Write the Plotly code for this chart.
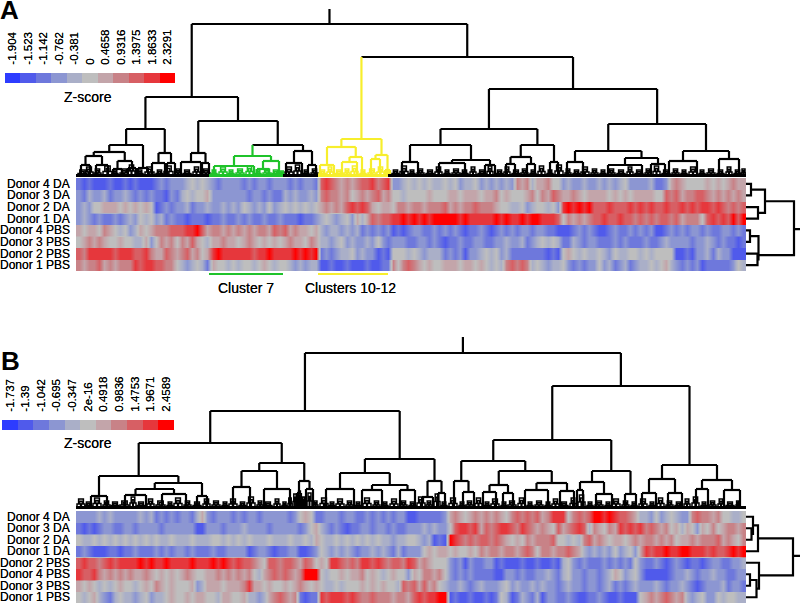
import plotly.graph_objects as go

W, H = 800, 603
COLORS = ["#2d3cff","#505aeb","#6e78dc","#8c96d2","#aaafc8","#bebebe","#c3a5aa","#c88287","#d75f64","#e6373c","#ff0000"]

ROWS_A = ["Donor 4 DA","Donor 3 DA","Donor 2 DA","Donor 1 DA","Donor 4 PBS","Donor 3 PBS","Donor 2 PBS","Donor 1 PBS"]
ROWS_B = ["Donor 4 DA","Donor 3 DA","Donor 2 DA","Donor 1 DA","Donor 2 PBS","Donor 4 PBS","Donor 3 PBS","Donor 1 PBS"]
TICKS_A = ["-1.904","-1.523","-1.142","-0.762","-0.381","0","0.4658","0.9316","1.3975","1.8633","2.3291"]
TICKS_B = ["-1.737","-1.39","-1.042","-0.695","-0.347","2e-16","0.4918","0.9836","1.4753","1.9671","2.4589"]

# colour level of each gene block, 0 (blue) .. a (red)
HEAT_A = [
"2121112112 1211123233 3454543233 3323233233 3232332898 7676788978 9334545454 4545344534 3434376746 6755343343 3434345333 3422367655 5565656766",
"3243342334 3232322132 4545563333 3332332322 4343343787 7675676786 7554555565 5566566656 6756555675 7687667656 6665656566 6655878677 8876767676",
"3435566656 5656512323 3423343343 4354343534 5454545676 7689898656 6577677677 7867677877 7655445345 54539a9a9a 8889888989 8988988989 8998987878",
"3432322323 4354534232 2122212232 2323223223 2221223454 3453646878 899a9a9a9a aaaa9a9999 9a9a99a9aa 9998576767 8898898878 7878878677 7589898a8a",
"6566576545 3465677788 899a867767 6767677687 8676656434 4343423232 3121233223 2323212232 1232323323 3221112323 2112322323 2311232323 3232233232",
"5676765565 5446357675 7686546676 6567656565 6766576443 4534334353 2333223323 2122322332 2334334234 5454224323 3222323222 3223433332 3343232212",
"8799999899 9889766876 7867569a99 9999899a99 99a9a9a232 3445343312 1555454344 4232313345 4534222222 2121565454 4543544554 5455551121 3342433111",
"7677867677 7989988775 4345426554 5455456545 5434344112 1121112112 2757876565 5666566565 4547878745 4344532323 3534234234 4545643232 3122222354",
]
HEAT_B = [
"3333434333 3343423232 3324632333 2323323333 3235652233 3233223232 3233112222 2367656767 6765787878 6799957878 aa9a988764 4353454337 8776755445",
"2121233223 3233332333 3331133323 3343333233 3332356432 3212233233 2322333434 3358998968 7899879876 7658678984 7657698989 7876756465 3657567767",
"5445454545 4545454454 4454445545 4545444544 4544546544 5454545454 4344554341 21a9878788 7876565767 7785545478 6765665676 7767675667 6777867657",
"2321112212 2322232323 3232223223 3331233212 2331123543 4343233434 3242333565 6656556576 7767767875 7767787643 4343534536 9899a99aa9 9989889a9a",
"8988789899 99a9a99a99 99a999a9a9 8988765887 8876875659 9878799898 7887986765 5532313223 3121112112 1121453232 2232323253 2232123212 2123322334",
"9889767676 7667656565 6765566767 6767546787 8767aaa545 5656675654 5655365776 7532323222 2113323223 3432453323 3234653453 1111123343 2334332233",
"6565454565 5456576565 5563466656 6679665655 6567656544 5455565656 5548786867 5433432343 3345343343 4332343323 3234232343 3343233432 1233342332",
"5456432454 4345344565 5656655466 5564434678 7672122989 9989877877 7677689899 aa12112112 1254124324 1332232112 2321121115 6767876743 4533545544",
]

# column dendrograms: (height, left, right[, colour]); a bare number is a leaf at that gene rank
TREE_A = (153,
  (80,
    (48,
      (32, (25, (21, (12,5,14), (12,20,32)), (16, (8,37,46), (9,52,60))), (9,62,72)),
      (24, (14,76,89), (14,91,99))),
    (56,
      (24, (15,105,125), (14,126,133)),
      (32,
        (21, (11,138,178), (16, (8,181,193), 203), "g"),
        (26, (14,210,226), (12,232,240))))),
  (120,
    (38,
      (30, (12,244,258), (20, (15,266,281), 286)),
      (22, (18,295,304), (7,309,314)), "y"),
    (88,
      (48,
        (32, (15,326,342), (17, (14,363,389), (12,409,419))),
        (32, (20, (13,430,439), (13,451,459)), (15,474,482))),
      (53,
        (26, (15,491,507), (19, (12,532,566), (13,575,589))),
        (26, (16,593,621), (18,643,663))))))
TREE_B = (156,
  (98,
    (66,
      (33, (13,15,31), (26, (20, (14,49,70), (15,86,110)), (13,121,131))),
      (46, (38, (22,157,174), (20,188,214)), (28, (16,221,225), (20,230,237)))),
    (50,
      (36, (20,250,278), (24, (19,286,306), (19,324,339))),
      (28, (12,346,357), (16,362,369)))),
  (123,
    (69,
      (48,
        (28, 378, (17,387,398)),
        (38, (24, (17,407,420), (16,427,437)), (26, (19,449,472), (18,484,498)))),
      (38, (27, (19,501,507), (15,520,536)), (15,549,560))),
    (44,
      (30, (16,566,580), (16,592,606)),
      (29, (20,620,632), (19,648,664)))))
ROOT_TOP_A, ROOT_TOP_B = 168, 172

# low tufts of the dendrograms: gene rank, width, height
TUFT_A = [(2,9,7),(9,8,10),(18,7,8),(27,9,11),(36,6,7),(44,8,8),(52,7,12),(61,6,7),(69,9,10),(80,7,7),(88,9,11),(99,6,8),(107,8,7),(117,7,10),(126,8,8),
(135,6,7),(143,8,10),(152,6,7),(160,8,8),(170,7,11),(179,6,7),(187,8,8),(196,7,7),(204,4,6),(209,8,10),(218,7,12),(227,6,7),(235,7,8),
(243,7,7),(251,6,10),(259,8,7),(268,6,8),(275,7,11),(284,6,7),(292,8,8),(301,7,10),(309,4,7),(316,7,7),(324,8,11),(333,6,7),(341,7,8),(350,8,7),
(359,7,10),(368,6,7),(376,8,8),(385,7,7),(394,6,10),(402,8,7),(411,6,11),(420,7,7),(428,6,10),(436,8,7),(445,7,8),(454,6,7),(462,7,11),(471,6,7),
(479,8,12),(489,6,8),(497,7,7),(505,8,10),(515,7,8),(524,6,7),(532,7,8),(541,8,7),(551,6,10),(559,8,7),(569,6,8),(577,7,11),(586,8,7),
(596,7,8),(605,6,7),(613,8,10),(623,6,7),(631,8,8),(641,7,7),(650,6,10),(658,7,7),(665,5,8)]
TUFT_B = [(1,8,10),(9,7,7),(17,8,11),(27,7,8),(35,8,7),(44,9,8),(54,6,12),(61,8,7),(71,7,10),(80,9,8),(91,6,7),(98,8,11),(108,7,8),(117,8,7),(127,7,10),
(136,8,8),(146,6,7),(153,8,10),(163,7,7),(171,8,12),(181,6,8),(188,8,7),(198,6,10),(206,5,7),(212,4,11),(217,4,15),(222,3,18),(226,3,12),(231,5,16),(237,5,8),
(244,8,11),(253,6,7),(260,8,10),(270,7,8),(279,6,7),(287,8,11),(297,7,8),(306,6,7),(314,8,10),(324,7,8),(333,7,7),(341,8,12),(350,6,8),(358,6,15),(365,6,7),
(373,8,11),(383,6,7),(390,7,8),(399,7,11),(408,6,7),(415,8,10),(425,6,7),(432,8,8),(442,7,11),(451,6,7),(459,8,8),(469,6,7),(476,7,10),(484,8,7),(494,6,11),
(502,7,14),(511,6,7),(519,8,8),(529,6,7),(536,8,10),(546,7,8),(555,6,7),(563,8,10),(573,6,7),(581,7,11),(590,7,8),(599,7,7),(608,6,10),(616,7,12),(625,6,7),
(633,7,8),(642,6,10),(650,8,7),(660,3,8)]
CLUSTER_SPANS_A = {"g": (133,207), "y": (242,312)}
CLUSTER_LABELS_A = [("Cluster 7", "g", 170), ("Clusters 10-12", "y", 274)]

# sample dendrograms: (height, row a, row b, height at a, height at b)
ROWTREE_A = [(5,.5,1.5,0,0),(12,2.5,3.5,0,0),(19,1,3,5,12),(4,4.5,5.5,0,0),(11.5,6.5,7.5,0,0),(12.5,5,7,4,11.5),(48,2,6.64,19,12.5),(54,4.4,4.4,48,48)]
ROWTREE_B = [(5.5,1.5,2.5,0,0),(7,.5,2,0,5.5),(12,1.25,3.5,7,0),(4,5.5,6.5,0,0),(10.5,6,7.5,4,0),(13,4.5,6.75,0,10.5),(47,2.375,5.6,12,13),(54,3.9,3.9,47,47)]

LINE = {"k": "#000000", "g": "#1fc32a", "y": "#f7ee2c"}
FONT = "Liberation Sans, Arial, sans-serif"
SHADOW = "0 0 0.6px rgba(0,0,0,0.9)"
GENES = 670.0


def dom(a, b, size):
    return [a / size, b / size]


def ydom(top, bottom):
    return [1 - bottom / H, 1 - top / H]


def walk(node, seg, col="k"):
    """returns (x, height, colour) of the node, adding its segments to seg"""
    if not isinstance(node, tuple):
        return node, 0, col
    h, l, r = node[:3]
    c = node[3] if len(node) > 3 else col
    lx, lh, lc = walk(l, seg, c)
    rx, rh, rc = walk(r, seg, c)
    seg[c][0] += [lx, rx, None]
    seg[c][1] += [h, h, None]
    seg[lc][0] += [lx, lx, None]
    seg[lc][1] += [lh, h, None]
    seg[rc][0] += [rx, rx, None]
    seg[rc][1] += [rh, h, None]
    return (lx + rx) / 2, h, c


def colour_at(x, spans):
    for k, (a, b) in spans.items():
        if a <= x + 1 and x + 1 <= b + 1:
            return k
    return "k"


fig = go.Figure()
layout = {}
annotations = []
shapes = []


def panel(idx, heat, rows, ticks, tree, root_top, tufts, spans, rowtree, tree_px, heat_px, bar_px, letter, zscore_y, letter_xy):
    ax = lambda k: idx + k
    xn = lambda k: f"x{ax(k)}"
    yn = lambda k: f"y{ax(k)}"
    lx = lambda k: f"xaxis{ax(k)}"
    ly = lambda k: f"yaxis{ax(k)}"
    off = dict(visible=False, fixedrange=True)

    # column dendrogram
    seg = {k: [[], []] for k in LINE}
    x, h, _ = walk(tree, seg)
    seg["k"][0] += [x, x, None]
    seg["k"][1] += [h, root_top, None]
    for k, (xs, ys) in seg.items():
        if xs:
            fig.add_trace(go.Scatter(x=xs, y=ys, mode="lines", xaxis=xn(0), yaxis=yn(0), hoverinfo="skip",
                                     line=dict(color=LINE[k], width=2.2)))
    low = {k: [[], []] for k in LINE}
    for (t, w, hh) in tufts:
        k = colour_at(t, spans)
        # a tuft narrows towards its top, as the nested merges do in the picture
        low[k][0] += [t + w * .2, t + w * .2, t + w * .8, t + w * .8, None,
                      t, t, t + w * .45, t + w * .45, None, t + w * .55, t + w * .55, t + w, t + w, None,
                      t + w * .35, t + w * .35, t + w * .65, t + w * .65, None]
        low[k][1] += [hh * .5, hh, hh, hh * .5, None,
                      0, hh * .5, hh * .5, 0, None, 0, hh * .5, hh * .5, 0, None,
                      hh * .5, hh * .78, hh * .78, hh * .5, None]
    for k, (xs, ys) in low.items():
        if xs:
            fig.add_trace(go.Scatter(x=xs, y=ys, mode="lines", xaxis=xn(0), yaxis=yn(0), hoverinfo="skip",
                                     line=dict(color=LINE[k], width=1.5)))
    # solid band along the foot of the tree
    edges = sorted([0, GENES] + [v for s in spans.values() for v in s])
    for a, b in zip(edges[:-1], edges[1:]):
        k = colour_at((a + b) / 2, spans)
        fig.add_trace(go.Scatter(x=[a, b], y=[1.5, 1.5], mode="lines", xaxis=xn(0), yaxis=yn(0), hoverinfo="skip",
                                 line=dict(color=LINE[k], width=3)))
    layout[lx(0)] = dict(domain=dom(76, 746, W), range=[0, GENES], anchor=yn(0), **off)
    layout[ly(0)] = dict(domain=ydom(*tree_px), range=[0, tree_px[1] - tree_px[0]], anchor=xn(0), **off)

    # heat map
    rep = 8
    parsed = [[int(c, 16) for c in r.replace(" ", "")] for r in heat]
    z, yy = [], []
    for i, r in enumerate(parsed):
        for j in range(rep):
            z.append(r)
            yy.append(i + (j + .5) / rep)
    n = len(parsed[0])
    dx = GENES / n
    scale = [[i / 10, c] for i, c in enumerate(COLORS)]
    fig.add_trace(go.Heatmap(z=z, x=[dx * (i + .5) for i in range(n)], y=yy, zmin=0, zmax=10, colorscale=scale,
                             showscale=False, zsmooth="best", xaxis=xn(1), yaxis=yn(1), hoverinfo="skip"))
    layout[lx(1)] = dict(domain=dom(76, 746, W), range=[0, GENES], anchor=yn(1), **off)
    layout[ly(1)] = dict(domain=ydom(*heat_px), range=[8, 0], anchor=xn(1), **off)
    for i, name in enumerate(rows):
        annotations.append(dict(text=name, xref="paper", yref=yn(1), x=71 / W, y=i + .5, showarrow=False,
                                xanchor="right", yanchor="middle", borderpad=0,
                                font=dict(family=FONT, size=12, color="#000000", shadow=SHADOW)))

    # sample dendrogram
    xs, ys = [], []
    for (hh, a, b, ha, hb) in rowtree:
        xs += [ha, hh, hh, hb, None]
        ys += [a, a, b, b, None]
    fig.add_trace(go.Scatter(x=xs, y=ys, mode="lines", xaxis=xn(2), yaxis=yn(2), hoverinfo="skip",
                             line=dict(color="#000000", width=2.2)))
    layout[lx(2)] = dict(domain=dom(746, 800, W), range=[0, 54], anchor=yn(2), **off)
    layout[ly(2)] = dict(domain=ydom(*heat_px), range=[8, 0], anchor=xn(2), **off)

    # colour key
    fig.add_trace(go.Heatmap(z=[list(range(11))], x=ticks, y=["Z-score"], zmin=0, zmax=10, colorscale=scale,
                             showscale=False, xaxis=xn(3), yaxis=yn(3), hoverinfo="skip"))
    layout[lx(3)] = dict(domain=dom(bar_px[0], bar_px[1], W), type="category", side="top", anchor=yn(3), fixedrange=True,
                         tickangle=-90, ticks="outside", ticklen=5, tickcolor="rgba(0,0,0,0)", showgrid=False, zeroline=False,
                         showline=False, tickfont=dict(family=FONT, size=11.5, color="#000000", shadow=SHADOW))
    layout[ly(3)] = dict(domain=ydom(bar_px[2], bar_px[3]), anchor=xn(3), **off)
    annotations.append(dict(text="Z-score", xref="paper", yref="paper", x=88 / W, y=1 - zscore_y / H, showarrow=False,
                            xanchor="center", yanchor="middle",
                            font=dict(family=FONT, size=14, color="#000000", shadow=SHADOW)))
    annotations.append(dict(text=f"<b>{letter}</b>", xref="paper", yref="paper", x=letter_xy[0] / W, y=1 - letter_xy[1] / H,
                            showarrow=False, xanchor="left", yanchor="middle",
                            font=dict(family=FONT, size=26, color="#000000")))
    return xn(1)


xa = panel(1, HEAT_A, ROWS_A, TICKS_A, TREE_A, ROOT_TOP_A, TUFT_A, CLUSTER_SPANS_A, ROWTREE_A,
           (9, 177), (178, 271), (5, 175, 73, 83), "A", 97, (-2, 10))
panel(5, HEAT_B, ROWS_B, TICKS_B, TREE_B, ROOT_TOP_B, TUFT_B, {}, ROWTREE_B,
      (337, 509), (511, 603), (2, 174, 420, 430), "B", 443, (-1, 361))

for name, key, centre in CLUSTER_LABELS_A:
    a, b = CLUSTER_SPANS_A[key]
    shapes.append(dict(type="line", xref=xa, yref="paper", x0=a, x1=b, y0=1 - 274 / H, y1=1 - 274 / H,
                       line=dict(color=LINE[key], width=1.8)))
    annotations.append(dict(text=name, xref=xa, yref="paper", x=centre, y=1 - 288 / H,
                            showarrow=False, xanchor="center", yanchor="middle",
                            font=dict(family=FONT, size=14, color="#000000", shadow=SHADOW)))

fig.update_layout(width=W, height=H, margin=dict(l=0, r=0, t=0, b=0, pad=0), autosize=False, showlegend=False,
                  paper_bgcolor="white", plot_bgcolor="white", annotations=annotations, shapes=shapes, **layout)
fig.write_html("out.html", config={"displayModeBar": False},
               post_script="var d=document.querySelector('.plotly-graph-div');d.style.position='fixed';d.style.left='0';d.style.top='0';d.style.margin='0';document.body.style.margin='0';document.documentElement.style.overflow='hidden';")
